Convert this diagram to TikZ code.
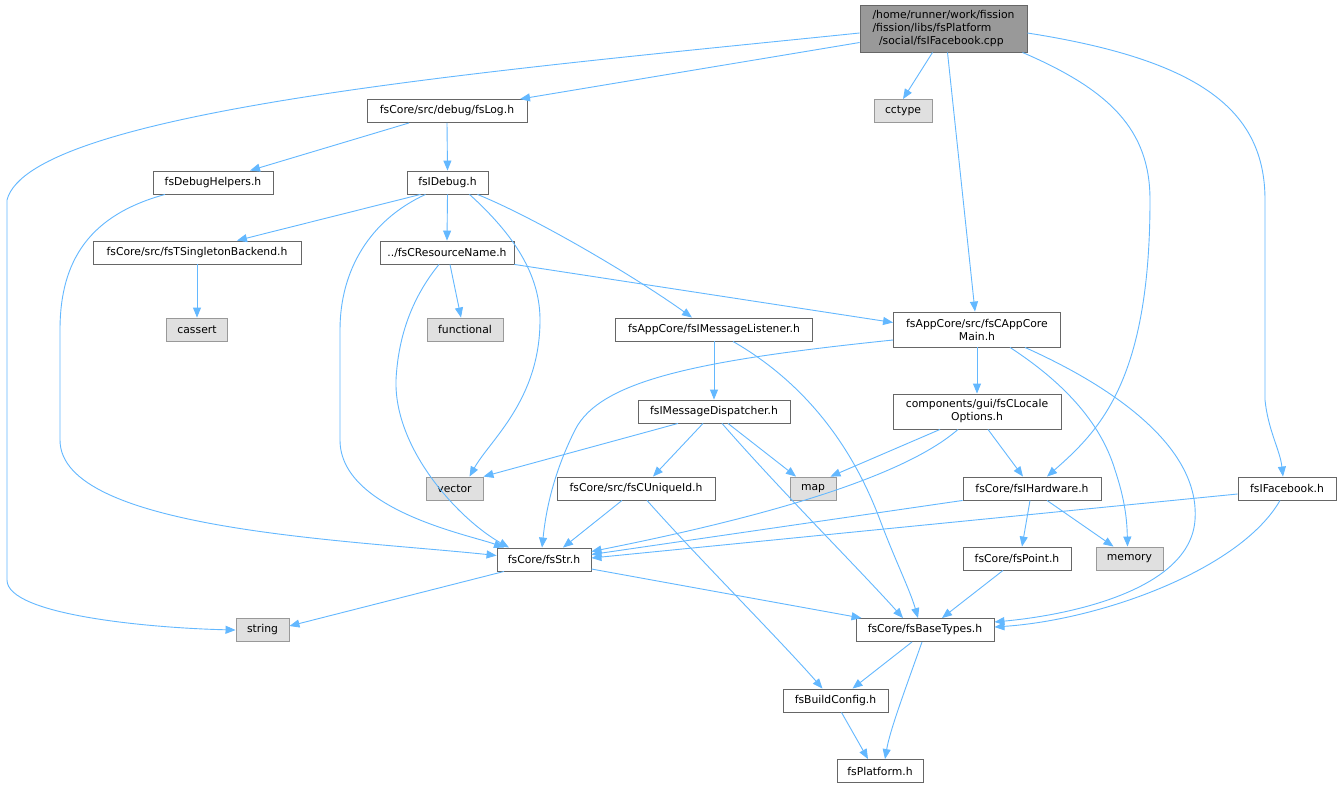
\documentclass[tikz,border=0pt]{standalone}
\usepackage{fontspec}
\setmainfont{DejaVu Sans}
\usetikzlibrary{arrows.meta}
\definecolor{edgec}{HTML}{63B8FF}
\definecolor{bordc}{HTML}{666666}
\definecolor{extb}{HTML}{999999}
\definecolor{extf}{HTML}{E0E0E0}
\definecolor{rootf}{HTML}{999999}
\begin{document}
\begin{tikzpicture}[x=1pt,y=-1pt,
  box/.style={draw=bordc, fill=white, line width=0.9pt, inner sep=0pt, minimum height=23pt, font=\fontsize{10.8}{13}\selectfont, text=black, align=center},
  ext/.style={box, draw=extb, fill=extf},
  rootbox/.style={box, fill=rootf, minimum height=47pt, align=left},
  edge/.style={draw=edgec, line width=0.9pt, -{Triangle[length=10pt,width=8pt]}}]
\useasboundingbox[fill=white] (0,0) rectangle (1341,788);

% nodes
\node[rootbox, minimum width=167pt] (root) at (943.5,28.5) {/home/runner/work/fission\\/fission/libs/fsPlatform\\\hspace*{6.5pt}/social/fsIFacebook.cpp};
\node[box, minimum width=160pt] (log) at (447,111) {fsCore/src/debug/fsLog.h};
\node[ext, minimum width=58pt] (cctype) at (903,111) {cctype};
\node[box, minimum width=120pt] (dbgh) at (213,182.5) {fsDebugHelpers.h};
\node[box, minimum width=81pt] (idebug) at (447.5,182.5) {fsIDebug.h};
\node[box, minimum width=208pt] (singleton) at (197,252.5) {fsCore/src/fsTSingletonBackend.h};
\node[box, minimum width=134pt] (resname) at (447,252.5) {../fsCResourceName.h};
\node[ext, minimum width=61pt] (cassert) at (197,329.5) {cassert};
\node[ext, minimum width=76pt] (functional) at (465,329.5) {functional};
\node[box, minimum width=197pt] (listener) at (714,329.5) {fsAppCore/fsIMessageListener.h};
\node[box, minimum width=167pt, minimum height=35pt] (appmain) at (977,329.5) {fsAppCore/src/fsCAppCore\\Main.h};
\node[box, minimum width=152pt] (dispatcher) at (714,411.5) {fsIMessageDispatcher.h};
\node[box, minimum width=168pt, minimum height=35pt] (locale) at (977,411.5) {components/gui/fsCLocale\\Options.h};
\node[ext, minimum width=57pt] (vector) at (454.5,488.5) {vector};
\node[ext, minimum width=46pt] (map) at (813,488.5) {map};
\node[box, minimum width=158pt] (uniqueid) at (636,488.5) {fsCore/src/fsCUniqueId.h};
\node[box, minimum width=138pt] (hardware) at (1032,488.5) {fsCore/fsIHardware.h};
\node[box, minimum width=98pt] (facebook) at (1287,488.5) {fsIFacebook.h};
\node[box, minimum width=94pt] (str) at (544,559.5) {fsCore/fsStr.h};
\node[box, minimum width=108pt] (point) at (1017,558.5) {fsCore/fsPoint.h};
\node[ext, minimum width=67pt] (memory) at (1129.5,558.5) {memory};
\node[ext, minimum width=53pt] (string) at (262.5,630) {string};
\node[box, minimum width=138pt] (basetypes) at (925,630) {fsCore/fsBaseTypes.h};
\node[box, minimum width=105pt] (buildconfig) at (835.5,700.5) {fsBuildConfig.h};
\node[box, minimum width=86pt] (platform) at (880,771) {fsPlatform.h};

% edges from root
\draw[edge] ([yshift=-4.5pt]root.west) .. controls (500,70) and (30,110) .. (7,200) -- (7,580) .. controls (7,615) and (150,628) .. (string.west);
\draw[edge] ([yshift=-14pt]root.west) -- ([xshift=73pt]log.north);
\draw[edge] ([xshift=-11pt]root.south) -- (cctype.north);
\draw[edge] ([xshift=4pt]root.south) -- ([xshift=-2pt]appmain.north);
\draw[edge] ([xshift=-5pt]root.south east) .. controls (1110,90) and (1150,130) .. (1150,200) .. controls (1150,380) and (1100,430) .. ([xshift=15pt]hardware.north);
\draw[edge] ([yshift=-4.5pt]root.east) .. controls (1200,60) and (1265,110) .. (1265,200) -- (1265,400) .. controls (1268,430) and (1280,450) .. ([xshift=-4pt]facebook.north);
% fsLog
\draw[edge] ([xshift=-38pt]log.south) -- ([xshift=37pt]dbgh.north);
\draw[edge] (log.south) -- (idebug.north);
% fsDebugHelpers
\draw[edge] ([xshift=-48pt]dbgh.south) .. controls (90,215) and (60,260) .. (60,330) -- (60,440) .. controls (60,530) and (350,540) .. ([yshift=4pt]str.west);
% fsIDebug
\draw[edge] ([xshift=-27pt]idebug.south) -- ([xshift=40pt]singleton.north);
\draw[edge] (idebug.south) -- (resname.north);
\draw[edge] ([xshift=-22pt]idebug.south) .. controls (370,220) and (340,270) .. (340,330) -- (340,440) .. controls (340,510) and (470,535) .. ([xshift=-40pt]str.north);
\draw[edge] ([xshift=22pt]idebug.south) .. controls (520,240) and (540,280) .. (540,320) .. controls (540,400) and (490,440) .. ([xshift=15pt]vector.north);
\draw[edge] ([xshift=30pt]idebug.south) .. controls (540,220) and (640,280) .. ([xshift=-22pt]listener.north);
% singleton
\draw[edge] (singleton.south) -- (cassert.north);
% resname
\draw[edge] ([xshift=3pt]resname.south) -- ([xshift=-4pt]functional.north);
\draw[edge] (resname.south east) -- ([yshift=7pt]appmain.west);
\draw[edge] ([xshift=-8pt]resname.south) .. controls (410,300) and (398,340) .. (396,380) .. controls (394,450) and (460,520) .. ([xshift=-35pt]str.north);
% listener
\draw[edge] (listener.south) -- (dispatcher.north);
\draw[edge] ([xshift=19pt]listener.south) .. controls (800,380) and (850,440) .. (880,520) .. controls (895,560) and (910,590) .. ([xshift=-7pt]basetypes.north);
% appmain
\draw[edge] (appmain.south) -- (locale.north);
\draw[edge] ([yshift=-10.5pt]appmain.west) .. controls (700,360) and (600,380) .. (575,430) .. controls (550,480) and (545,520) .. ([xshift=-2pt]str.north);
\draw[edge] ([xshift=33pt]appmain.south) .. controls (1060,380) and (1100,420) .. (1115,470) .. controls (1125,500) and (1127,520) .. ([xshift=-2pt]memory.north);
\draw[edge] ([xshift=48pt]appmain.south) .. controls (1120,390) and (1200,450) .. (1195,520) .. controls (1190,590) and (1070,615) .. ([yshift=8pt]basetypes.east);
% locale
\draw[edge] ([xshift=-37pt]locale.south) -- ([xshift=-6pt]map.north east);
\draw[edge] ([xshift=-19pt]locale.south) .. controls (900,480) and (750,520) .. ([yshift=8pt]str.east);
\draw[edge] ([xshift=11pt]locale.south) -- ([xshift=-9pt]hardware.north);
% dispatcher
\draw[edge] ([xshift=-36pt]dispatcher.south) -- (vector.north east);
\draw[edge] ([xshift=-11pt]dispatcher.south) -- ([xshift=17pt]uniqueid.north);
\draw[edge] ([xshift=14pt]dispatcher.south) -- ([xshift=-17pt]map.north);
\draw[edge] ([xshift=8pt]dispatcher.south) .. controls (780,490) and (860,570) .. ([xshift=-22pt]basetypes.north);
% uniqueid
\draw[edge] ([xshift=-14pt]uniqueid.south) -- ([xshift=19pt]str.north);
\draw[edge] ([xshift=11pt]uniqueid.south) .. controls (700,560) and (780,640) .. ([xshift=-13pt]buildconfig.north);
% hardware
\draw[edge] (hardware.south west) -- ([yshift=5pt]str.east);
\draw[edge] ([xshift=-2pt]hardware.south) -- ([xshift=5pt]point.north);
\draw[edge] ([xshift=15pt]hardware.south) -- ([xshift=-16pt]memory.north);
% facebook
\draw[edge] ([yshift=-5.5pt]facebook.west) -- ([yshift=1.5pt]str.east);
\draw[edge] ([xshift=-7pt]facebook.south) .. controls (1240,570) and (1100,620) .. ([yshift=3pt]basetypes.east);
% str
\draw[edge] ([xshift=-40pt]str.south) -- ([yshift=4pt]string.east);
\draw[edge] ([yshift=-9.5pt]str.east) -- ([xshift=6pt]basetypes.north west);
% point
\draw[edge] ([xshift=-14pt]point.south) -- ([xshift=17pt]basetypes.north);
% basetypes
\draw[edge] ([xshift=-13pt]basetypes.south) -- ([xshift=17pt]buildconfig.north);
\draw[edge] ([xshift=-3pt]basetypes.south) .. controls (905,690) and (890,730) .. ([xshift=5pt]platform.north);
% buildconfig
\draw[edge] ([xshift=6pt]buildconfig.south) -- ([xshift=-12pt]platform.north);
\end{tikzpicture}
\end{document}
